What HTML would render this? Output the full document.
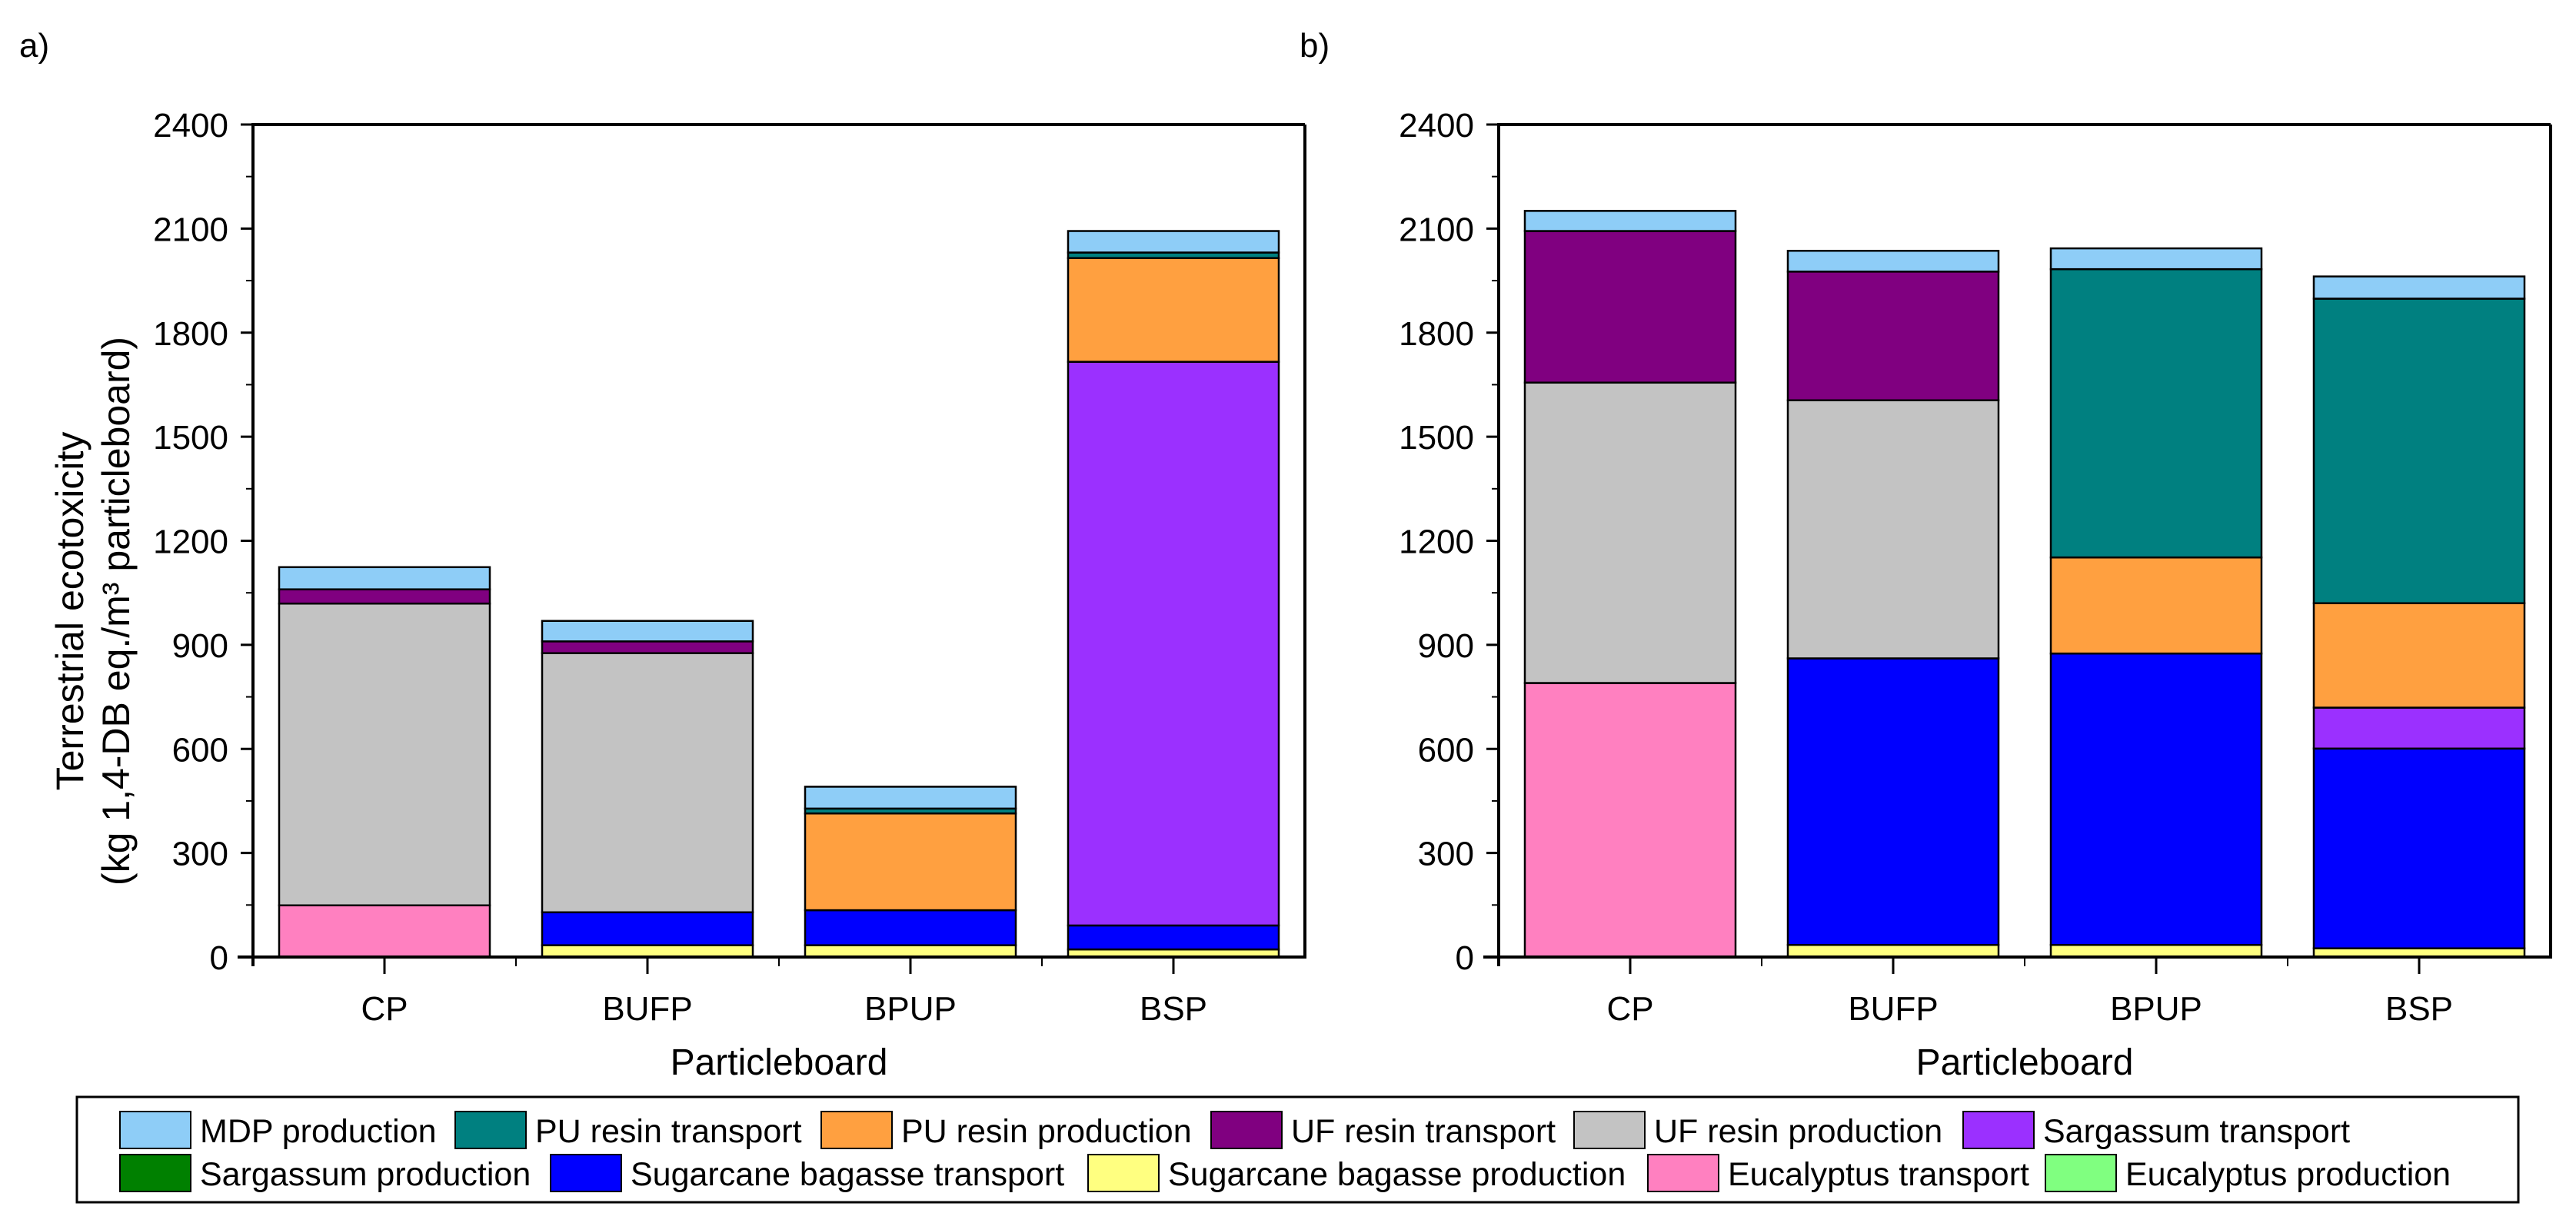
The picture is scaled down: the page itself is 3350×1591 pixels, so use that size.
<!DOCTYPE html>
<html><head><meta charset="utf-8"><style>
html,body{margin:0;padding:0;background:#fff;}
svg{display:block;font-family:"Liberation Sans",Arial,sans-serif;}
</style></head><body>
<svg id="chart" width="3350" height="1591" viewBox="0 0 3350 1591" xmlns="http://www.w3.org/2000/svg">
<rect x="0" y="0" width="3350" height="1591" fill="#fff"/>
<text x="25" y="74" font-size="44">a)</text>
<text x="1690" y="74" font-size="44">b)</text>
<g transform="translate(116,795) rotate(-90)">
<text x="0" y="-8" text-anchor="middle" font-size="50">Terrestrial ecotoxicity</text>
<text x="0" y="52" text-anchor="middle" font-size="50">(kg 1,4-DB eq./m³ particleboard)</text>
</g>
<g id="plots"></g>
<g id="legend"></g>
</svg>
<script>
const categories = ["CP","BUFP","BPUP","BSP"];
const yTicks = [0,300,600,900,1200,1500,1800,2100,2400];
const seriesNames = ["Eucalyptus production","Eucalyptus transport","Sugarcane bagasse production","Sugarcane bagasse transport","Sargassum production","Sargassum transport","UF resin production","UF resin transport","PU resin production","PU resin transport","MDP production"];
const seriesColors = ["#80ff80","#ff80c0","#ffff80","#0000ff","#008000","#9b30ff","#c3c3c3","#800080","#ffa040","#008080","#8ecdf7"];
// panel a values
const a_eucProd = [0,0,0,0];
const a_eucTrans = [149,0,0,0];
const a_sbProd = [0,34,34,22];
const a_sbTrans = [0,95,101,69];
const a_sargProd = [0,0,0,0];
const a_sargTrans = [0,0,0,1625];
const a_ufProd = [870,747,0,0];
const a_ufTrans = [41,34,0,0];
const a_puProd = [0,0,279,299];
const a_puTrans = [0,0,14,16];
const a_mdp = [64,59,63,62];
// panel b values
const b_eucProd = [0,0,0,0];
const b_eucTrans = [790,0,0,0];
const b_sbProd = [0,35,35,25];
const b_sbTrans = [0,826,840,576];
const b_sargProd = [0,0,0,0];
const b_sargTrans = [0,0,0,118];
const b_ufProd = [866,744,0,0];
const b_ufTrans = [437,371,0,0];
const b_puProd = [0,0,277,301];
const b_puTrans = [0,0,831,878];
const b_mdp = [58,60,60,64];

const panelA = [a_eucProd,a_eucTrans,a_sbProd,a_sbTrans,a_sargProd,a_sargTrans,a_ufProd,a_ufTrans,a_puProd,a_puTrans,a_mdp];
const panelB = [b_eucProd,b_eucTrans,b_sbProd,b_sbTrans,b_sargProd,b_sargTrans,b_ufProd,b_ufTrans,b_puProd,b_puTrans,b_mdp];

const NS="http://www.w3.org/2000/svg";
function mk(tag, attrs, parent){const e=document.createElementNS(NS,tag);for(const k in attrs)e.setAttribute(k,attrs[k]);parent.appendChild(e);return e;}
const plots=document.getElementById('plots');
const Y0=1245, Y1=162, YMAX=2400;
function yScale(v){return Y0-(v/YMAX)*(Y0-Y1);}

function drawPanel(x0, data, tag){
  const step=342, W=step*categories.length, x1=x0+W;
  function xScale(i){return x0+step*(i+0.5);}
  const g=mk('g',{},plots);
  
  
  categories.forEach((c,i)=>{
    let cum=0;
    data.forEach((s,k)=>{
      const v=s[i]; if(v<=0) return;
      const yb=yScale(cum), yt=yScale(cum+v); cum+=v;
      const r=mk('rect',{x:xScale(i)-137,y:yt,width:274,height:yb-yt,fill:seriesColors[k],stroke:'#000','stroke-width':2.5},g);
      
      
    });
  });
  mk('line',{x1:x0,y1:Y1,x2:x1,y2:Y1,stroke:'#000','stroke-width':4},g);
  mk('line',{x1:x1,y1:Y1,x2:x1,y2:Y0,stroke:'#000','stroke-width':4},g);
  const ya=mk('line',{x1:x0,y1:Y1-2,x2:x0,y2:Y0+12,stroke:'#000','stroke-width':4},g);
  
  
  const xa=mk('line',{x1:x0-20,y1:Y0,x2:x1+2,y2:Y0,stroke:'#000','stroke-width':4},g);
  
  
  yTicks.forEach((t,j)=>{
    const y=yScale(t);
    mk('line',{x1:x0-16,y1:y,x2:x0,y2:y,stroke:'#000','stroke-width':3},g);
    const tx=mk('text',{x:x0-32,y:y+16,'text-anchor':'end','font-size':44},g);
    tx.textContent=t;
    
    
    if(j<yTicks.length-1){const ym=yScale(t+150);mk('line',{x1:x0-9,y1:ym,x2:x0,y2:ym,stroke:'#000','stroke-width':2},g);}
  });
  categories.forEach((c,i)=>{
    mk('line',{x1:xScale(i),y1:Y0,x2:xScale(i),y2:Y0+22,stroke:'#000','stroke-width':3},g);
    if(i>0) mk('line',{x1:x0+step*i,y1:Y0,x2:x0+step*i,y2:Y0+12,stroke:'#000','stroke-width':2},g);
    const tx=mk('text',{x:xScale(i),y:Y0+82,'text-anchor':'middle','font-size':44},g);
    tx.textContent=c;
    
    
  });
  const xt=mk('text',{x:(x0+x1)/2,y:1398,'text-anchor':'middle','font-size':48},g);
  xt.textContent='Particleboard';
  
  
}
drawPanel(329, panelA, 'a');
drawPanel(1949, panelB, 'b');

const lg=document.getElementById('legend');
mk('rect',{x:100,y:1427,width:3175,height:137,fill:'#fff',stroke:'#000','stroke-width':3},lg);
const legendOrder=[10,9,8,7,6,5,4,3,2,1,0];
const legendX=[156,592,1068,1575,2047,2553,156,716,1415,2143,2660];
legendOrder.forEach((k,n)=>{
  const row=n<6?0:1;
  const y=row===0?1446:1502;
  const x=legendX[n];
  const gi=mk('g',{},lg);
  
  
  mk('rect',{x:x,y:y,width:92,height:48,fill:seriesColors[k],stroke:'#000','stroke-width':2},gi);
  const t=mk('text',{x:x+104,y:y+40,'font-size':43},gi);
  t.textContent=seriesNames[k];
});
</script>
</body></html>
